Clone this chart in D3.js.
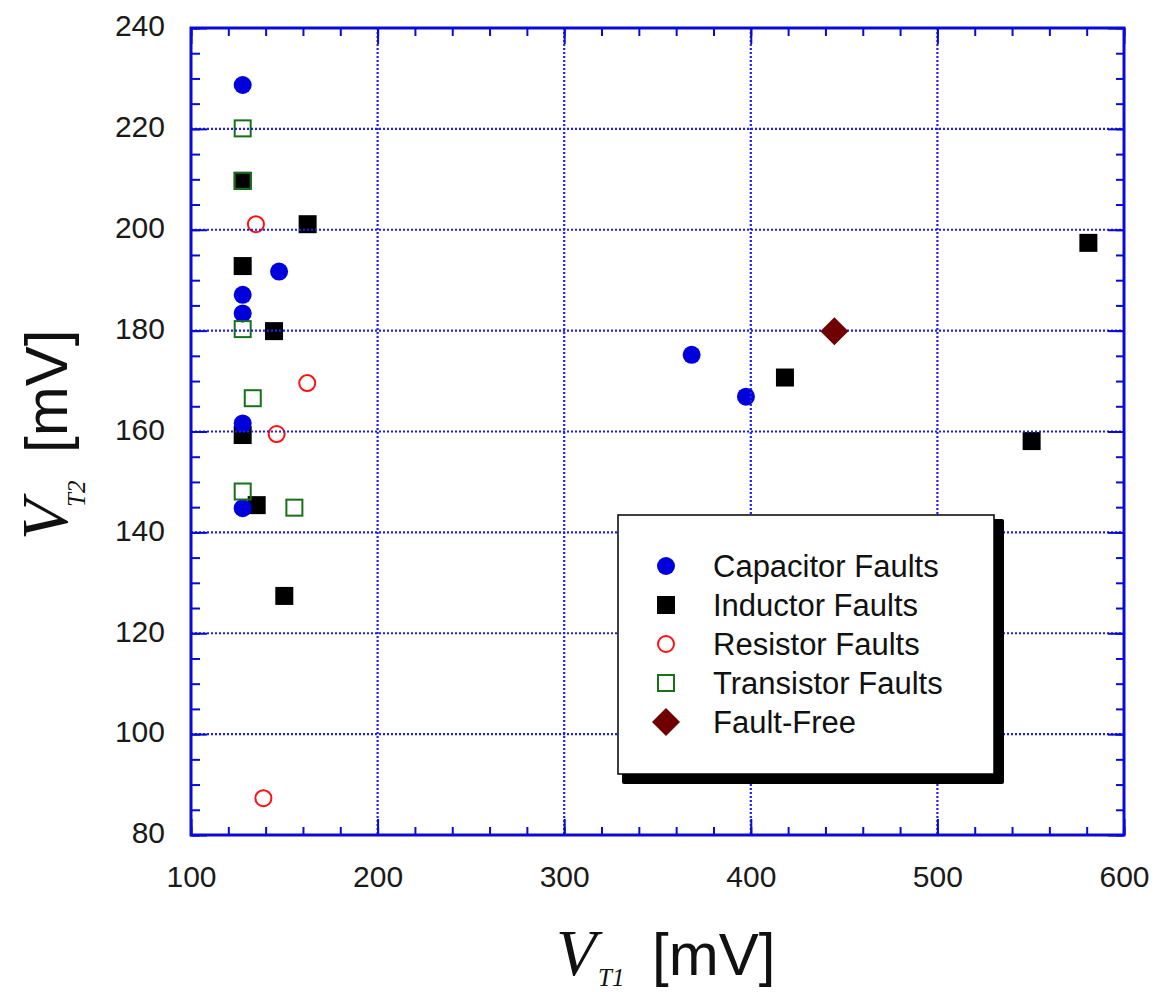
<!DOCTYPE html>
<html>
<head>
<meta charset="utf-8">
<script src="https://cdn.jsdelivr.net/npm/d3@7"></script>
<style>
  html, body { margin: 0; padding: 0; background: #fff; }
  svg { display: block; }
</style>
</head>
<body>
<svg id="chart" width="1155" height="992"></svg>
<script>
// Threshold voltages V_T1 / V_T2 (mV) for each injected fault
const capacitorVT1 = [127.7, 127.7, 127.7, 147.2, 127.7, 127.7, 368.3, 397.4];
const capacitorVT2 = [228.7, 187.1, 183.4, 191.7, 161.6, 144.8, 175.2, 166.9];

const inductorVT1 = [127.7, 162.5, 127.7, 144.5, 127.7, 135.2, 150.0, 418.3, 580.9, 550.5];
const inductorVT2 = [209.7, 201.1, 192.8, 179.9, 159.3, 145.4, 127.4, 170.7, 197.4, 158.1];

const resistorVT1 = [134.8, 162.3, 145.9, 138.8];
const resistorVT2 = [201.1, 169.6, 159.5, 87.3];

const transistorVT1 = [127.7, 127.7, 127.7, 133.1, 127.7, 155.4];
const transistorVT2 = [220.1, 209.7, 180.3, 166.6, 148.1, 144.9];

const faultFreeVT1 = [444.8];
const faultFreeVT2 = [179.9];

const xTicks = [100, 200, 300, 400, 500, 600];
const yTicks = [80, 100, 120, 140, 160, 180, 200, 220, 240];
const legendLabels = ["Capacitor Faults", "Inductor Faults", "Resistor Faults", "Transistor Faults", "Fault-Free"];

const svg = d3.select("#chart");
const L = 191, R = 1124, T = 28, B = 835;
const x = d3.scaleLinear().domain([100, 600]).range([L, R]);
const y = d3.scaleLinear().domain([80, 240]).range([B, T]);

const AXIS = "#0a0ad8";
const GRID = "#1f1ff0";
const TICKFONT = "'Liberation Sans', Arial, sans-serif";

const zip = (a, b) => a.map((v, i) => [v, b[i]]);

// marker painters
const S = 18;
function drawCapacitor(g, pts) {
  g.selectAll(null).data(pts).join("circle")
    .attr("cx", d => x(d[0])).attr("cy", d => y(d[1])).attr("r", S / 2)
    .attr("fill", "#0000dd");
}
function drawInductor(g, pts) {
  g.selectAll(null).data(pts).join("rect")
    .attr("x", d => x(d[0]) - S / 2).attr("y", d => y(d[1]) - S / 2)
    .attr("width", S).attr("height", S).attr("fill", "#000");
}
function drawResistor(g, pts) {
  g.selectAll(null).data(pts).join("circle")
    .attr("cx", d => x(d[0])).attr("cy", d => y(d[1])).attr("r", 8)
    .attr("fill", "none").attr("stroke", "#ff1010").attr("stroke-width", 2);
}
function drawTransistor(g, pts) {
  g.selectAll(null).data(pts).join("rect")
    .attr("x", d => x(d[0]) - 8).attr("y", d => y(d[1]) - 8)
    .attr("width", 16).attr("height", 16)
    .attr("fill", "none").attr("stroke", "#17701a").attr("stroke-width", 2);
}
const diamond = "M0,-14L14,0L0,14L-14,0Z";
function drawFaultFree(g, pts) {
  g.selectAll(null).data(pts).join("path")
    .attr("d", diamond)
    .attr("transform", d => `translate(${x(d[0])},${y(d[1])})`)
    .attr("fill", "#700000");
}

// data marks
const marks = svg.append("g");
drawInductor(marks.append("g"), zip(inductorVT1, inductorVT2));
drawCapacitor(marks.append("g"), zip(capacitorVT1, capacitorVT2));
drawResistor(marks.append("g"), zip(resistorVT1, resistorVT2));
drawTransistor(marks.append("g"), zip(transistorVT1, transistorVT2));

// dotted grid, painted over the fault markers
const grid = svg.append("g").attr("stroke", GRID).attr("stroke-width", 2.2)
  .attr("stroke-dasharray", "2,2");
grid.selectAll(null).data(xTicks.slice(1, -1)).join("line")
  .attr("x1", d => x(d)).attr("x2", d => x(d)).attr("y1", T).attr("y2", B);
grid.selectAll(null).data(yTicks.slice(1, -1)).join("line")
  .attr("y1", d => y(d)).attr("y2", d => y(d)).attr("x1", L).attr("x2", R);

drawFaultFree(svg.append("g"), zip(faultFreeVT1, faultFreeVT2));

// axes: inward ticks on all four sides
const xMinor = d3.range(100, 601, 20);
const yMinor = d3.range(80, 241, 5);

function styleAxis(g) {
  g.select(".domain").remove();
  g.selectAll(".tick line").attr("stroke", AXIS).attr("stroke-width", 2);
  g.selectAll(".tick text").attr("fill", "#1a1a1a").attr("font-family", TICKFONT)
    .attr("font-size", 30);
}

svg.append("g").attr("transform", `translate(0,${B})`)
  .call(d3.axisBottom(x).tickValues(xMinor).tickSize(-8).tickFormat(""))
  .call(styleAxis);
svg.append("g").attr("transform", `translate(0,${B})`)
  .call(d3.axisBottom(x).tickValues(xTicks).tickSize(-16).tickPadding(31).tickFormat(d3.format("d")))
  .call(styleAxis);
svg.append("g").attr("transform", `translate(0,${T})`)
  .call(d3.axisTop(x).tickValues(xMinor).tickSize(-8).tickFormat(""))
  .call(styleAxis);
svg.append("g").attr("transform", `translate(0,${T})`)
  .call(d3.axisTop(x).tickValues(xTicks).tickSize(-16).tickFormat(""))
  .call(styleAxis);

svg.append("g").attr("transform", `translate(${L},0)`)
  .call(d3.axisLeft(y).tickValues(yMinor).tickSize(-9).tickFormat(""))
  .call(styleAxis);
const yAx = svg.append("g").attr("transform", `translate(${L},0)`)
  .call(d3.axisLeft(y).tickValues(yTicks).tickSize(-16).tickPadding(26).tickFormat(d3.format("d")))
  .call(styleAxis);
yAx.selectAll(".tick text").attr("dy", "0.26em");
svg.append("g").attr("transform", `translate(${R},0)`)
  .call(d3.axisRight(y).tickValues(yMinor).tickSize(-8).tickFormat(""))
  .call(styleAxis);
svg.append("g").attr("transform", `translate(${R},0)`)
  .call(d3.axisRight(y).tickValues(yTicks).tickSize(-16).tickFormat(""))
  .call(styleAxis);

// plot frame
svg.append("rect").attr("x", L).attr("y", T).attr("width", R - L).attr("height", B - T)
  .attr("fill", "none").attr("stroke", AXIS).attr("stroke-width", 3);

// axis titles
const SERIF = "'Liberation Serif', 'Times New Roman', serif";
const xt = svg.append("g").attr("fill", "#111");
xt.append("text").attr("x", 556).attr("y", 975).attr("font-family", SERIF)
  .attr("font-style", "italic").attr("font-size", 66).text("V");
xt.append("text").attr("x", 598).attr("y", 986).attr("font-family", SERIF)
  .attr("font-style", "italic").attr("font-size", 25).text("T1");
xt.append("text").attr("x", 652).attr("y", 975).attr("font-family", TICKFONT)
  .attr("font-size", 60).text("[mV]");

const yt = svg.append("g").attr("fill", "#111").attr("transform", "rotate(-90)");
yt.append("text").attr("x", -540).attr("y", 67).attr("font-family", SERIF)
  .attr("font-style", "italic").attr("font-size", 66).text("V");
yt.append("text").attr("x", -507).attr("y", 85).attr("font-family", SERIF)
  .attr("font-style", "italic").attr("font-size", 25).text("T2");
yt.append("text").attr("x", -453).attr("y", 67).attr("font-family", TICKFONT)
  .attr("font-size", 60).text("[mV]");

// legend box with drop shadow
const lg = svg.append("g");
lg.append("rect").attr("x", 622).attr("y", 519).attr("width", 382).attr("height", 265)
  .attr("fill", "#000").attr("rx", 2);
lg.append("rect").attr("x", 618).attr("y", 515).attr("width", 376).attr("height", 259)
  .attr("fill", "#fff").attr("stroke", "#000").attr("stroke-width", 1.5);

const rowY = [566, 605, 644, 683, 722];
const lx = 666;
const legRows = lg.append("g");
legRows.append("circle").attr("cx", lx).attr("cy", rowY[0]).attr("r", S / 2).attr("fill", "#0000dd");
legRows.append("rect").attr("x", lx - S / 2).attr("y", rowY[1] - S / 2).attr("width", S).attr("height", S).attr("fill", "#000");
legRows.append("circle").attr("cx", lx).attr("cy", rowY[2]).attr("r", 8)
  .attr("fill", "none").attr("stroke", "#ff1010").attr("stroke-width", 2);
legRows.append("rect").attr("x", lx - 8).attr("y", rowY[3] - 8).attr("width", 16).attr("height", 16)
  .attr("fill", "none").attr("stroke", "#17701a").attr("stroke-width", 2);
legRows.append("path").attr("d", diamond).attr("transform", `translate(${lx},${rowY[4]})`).attr("fill", "#700000");

lg.selectAll(null).data(legendLabels).join("text")
  .attr("x", 713).attr("y", (d, i) => rowY[i] + 11)
  .attr("font-family", TICKFONT).attr("font-size", 31).attr("fill", "#111")
  .text(d => d);
</script>
</body>
</html>
